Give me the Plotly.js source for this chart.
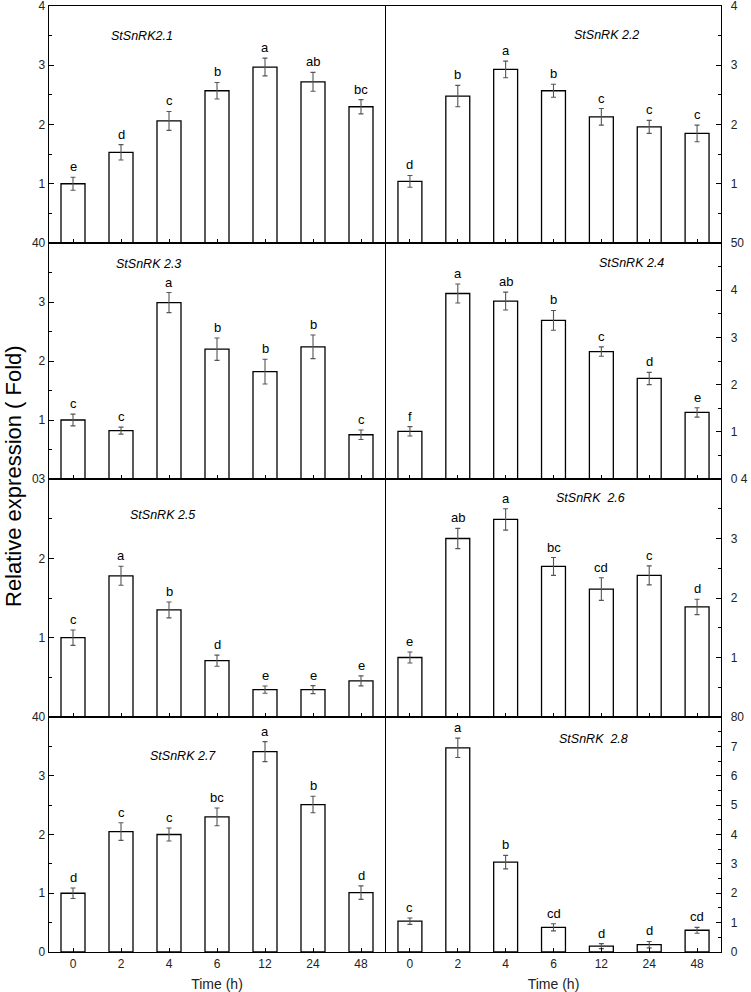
<!DOCTYPE html>
<html>
<head>
<meta charset="utf-8">
<script src="https://cdn.plot.ly/plotly-3.0.1.min.js"></script>
<style>html,body{margin:0;padding:0;background:#fff;}#chart{width:751px;height:992px;}</style>
</head>
<body>
<div id="chart"></div>
<script>
// ---- data ----
const times = ['0', '2', '4', '6', '12', '24', '48'];
const genes = ['StSnRK2.1', 'StSnRK 2.2', 'StSnRK 2.3', 'StSnRK 2.4', 'StSnRK 2.5', 'StSnRK  2.6', 'StSnRK 2.7', 'StSnRK  2.8'];

const val21 = [1.00, 1.53, 2.06, 2.57, 2.97, 2.72, 2.30];
const err21 = [0.11, 0.13, 0.16, 0.14, 0.15, 0.16, 0.12];
const let21 = ['e', 'd', 'c', 'b', 'a', 'ab', 'bc'];

const val22 = [1.04, 2.48, 2.93, 2.57, 2.13, 1.96, 1.85];
const err22 = [0.10, 0.18, 0.14, 0.11, 0.14, 0.11, 0.14];
const let22 = ['d', 'b', 'a', 'b', 'c', 'c', 'c'];

const val23 = [1.00, 0.82, 2.99, 2.20, 1.82, 2.24, 0.75];
const err23 = [0.10, 0.06, 0.17, 0.19, 0.21, 0.20, 0.08];
const let23 = ['c', 'c', 'a', 'b', 'b', 'b', 'c'];

const val24 = [1.01, 3.93, 3.77, 3.36, 2.70, 2.13, 1.41];
const err24 = [0.10, 0.20, 0.19, 0.21, 0.10, 0.13, 0.10];
const let24 = ['f', 'a', 'ab', 'b', 'c', 'd', 'e'];

const val25 = [1.00, 1.78, 1.35, 0.71, 0.345, 0.345, 0.455];
const err25 = [0.097, 0.12, 0.10, 0.07, 0.046, 0.05, 0.063];
const let25 = ['c', 'a', 'b', 'd', 'e', 'e', 'e'];

const val26 = [1.00, 3.00, 3.32, 2.53, 2.15, 2.38, 1.85];
const err26 = [0.093, 0.17, 0.18, 0.15, 0.19, 0.16, 0.13];
const let26 = ['e', 'ab', 'a', 'bc', 'cd', 'c', 'd'];

const val27 = [1.00, 2.05, 2.00, 2.30, 3.41, 2.51, 1.01];
const err27 = [0.09, 0.15, 0.11, 0.15, 0.17, 0.14, 0.115];
const let27 = ['d', 'c', 'c', 'bc', 'a', 'b', 'd'];

const val28 = [1.05, 6.95, 3.06, 0.84, 0.20, 0.25, 0.74];
const err28 = [0.11, 0.33, 0.23, 0.12, 0.085, 0.11, 0.10];
const let28 = ['c', 'a', 'b', 'cd', 'd', 'd', 'cd'];

// y tick values / labels per panel (boundary labels of stacked panels merge, as in the original)
const ytv1 = [0, 1, 2, 3, 4];          const ytt1 = ['', '1', '2', '3', '4'];
const ytv2 = [0, 1, 2, 3, 4];          const ytt2 = ['', '1', '2', '3', '4'];
const ytv3 = [0, 1, 2, 3, 4];          const ytt3 = ['', '1', '2', '3', '40'];
const ytv4 = [0, 1, 2, 3, 4, 5];       const ytt4 = ['', '1', '2', '3', '4', '50'];
const ytv5 = [0, 1, 2, 3];             const ytt5 = ['', '1', '2', '03'];
const ytv6 = [0, 1, 2, 3, 4];          const ytt6 = ['', '1', '2', '3', '0 4'];
const ytv7 = [0, 1, 2, 3, 4];          const ytt7 = ['0', '1', '2', '3', '40'];
const ytv8 = [0, 1, 2, 3, 4, 5, 6, 7, 8]; const ytt8 = ['0', '1', '2', '3', '4', '5', '6', '7', '80'];

const xTitle = 'Time (h)';
const yTitle = 'Relative expression ( Fold)';

// ---- build ----
const vals = [val21, val22, val23, val24, val25, val26, val27, val28];
const errs = [err21, err22, err23, err24, err25, err26, err27, err28];
const lets = [let21, let22, let23, let24, let25, let26, let27, let28];
const ytvs = [ytv1, ytv2, ytv3, ytv4, ytv5, ytv6, ytv7, ytv8];
const ytts = [ytt1, ytt2, ytt3, ytt4, ytt5, ytt6, ytt7, ytt8];
const yMax = [4, 4, 4, 5, 3, 4, 4, 8];

const FONT = 'Arial, "Liberation Sans", sans-serif';
const W = 751, H = 992;
const mL = 49, mR = 30, mT = 6, mB = 40;
const pw = W - mL - mR, ph = H - mT - mB;
const colX = [[49, 385], [386, 721]];
const rowY = [[6, 243], [243, 479], [479, 717], [717, 952]];
const titlePos = [[0.277, 0.873], [0.657, 0.878], [0.295, 0.911], [0.734, 0.916],
                  [0.339, 0.849], [0.609, 0.920], [0.399, 0.834], [0.618, 0.906]];

const traces = [];
const annotations = [];
const layout = {
  width: W, height: H,
  margin: {l: mL, r: mR, t: mT, b: mB, pad: 0},
  paper_bgcolor: '#fff', plot_bgcolor: '#fff',
  showlegend: false,
  font: {family: FONT, color: '#000', size: 12},
  annotations: annotations
};

for (let k = 0; k < 8; k++) {
  const n = k + 1;
  const suf = n === 1 ? '' : String(n);
  const col = k % 2, row = Math.floor(k / 2);
  const xd = [(colX[col][0] - mL) / pw, (colX[col][1] - mL) / pw];
  const yd = [(H - mB - rowY[row][1]) / ph, (H - mB - rowY[row][0]) / ph];
  traces.push({
    type: 'bar', x: times, y: vals[k],
    xaxis: 'x' + suf, yaxis: 'y' + suf,
    width: 0.5,
    marker: {color: '#fff', line: {color: '#000', width: 1.3}},
    error_y: {type: 'data', array: errs[k], visible: true, color: '#555', thickness: 1.1, width: 2.5},
    hoverinfo: 'skip'
  });
  const bottom = row === 3;
  layout['xaxis' + suf] = {
    domain: xd, anchor: 'y' + suf, type: 'category',
    categoryorder: 'array', categoryarray: times,
    range: [-0.5, 6.5],
    showline: true, linecolor: '#000', linewidth: 1.3, mirror: true,
    ticks: 'inside', ticklen: 4, tickcolor: '#000', tickwidth: 1,
    showgrid: false, zeroline: false,
    showticklabels: bottom,
    tickfont: {family: FONT, size: 12, color: '#222'},
    title: bottom ? {text: xTitle, font: {family: FONT, size: 14, color: '#222'}, standoff: 9} : {text: ''}
  };
  layout['yaxis' + suf] = {
    domain: yd, anchor: 'x' + suf,
    side: col === 0 ? 'left' : 'right',
    range: [0, yMax[k]],
    showline: true, linecolor: '#000', linewidth: 1.3, mirror: true,
    ticks: 'inside', ticklen: 5, tickcolor: '#000', tickwidth: 1,
    tickvals: ytvs[k], ticktext: ytts[k],
    minor: {dtick: 0.5, ticks: 'inside', ticklen: 3, tickcolor: '#000', tickwidth: 1, showgrid: false},
    showgrid: false, zeroline: false,
    ticklabeloverflow: 'allow',
    ticklabelstandoff: col === 0 ? 0 : 6,
    tickfont: {family: FONT, size: 12, color: '#222'}
  };
  // gene title
  annotations.push({
    xref: 'x' + suf + ' domain', yref: 'y' + suf + ' domain',
    x: titlePos[k][0], y: titlePos[k][1], text: '<i>' + genes[k] + '</i>',
    showarrow: false, xanchor: 'center', yanchor: 'middle',
    font: {family: FONT, size: 12.5, color: '#000'}
  });
  // significance letters (category index position on the category axis)
  for (let i = 0; i < times.length; i++) {
    annotations.push({
      xref: 'x' + suf, yref: 'y' + suf,
      x: i, y: vals[k][i] + errs[k][i],
      text: lets[k][i], showarrow: false,
      xanchor: 'center', yanchor: 'bottom', yshift: 1,
      font: {family: FONT, size: 13, color: '#000'}
    });
  }
}

// shared y title
annotations.push({
  xref: 'paper', yref: 'paper',
  x: (14 - mL) / pw, y: (H - mB - 476) / ph,
  text: yTitle, textangle: -90, showarrow: false,
  xanchor: 'center', yanchor: 'middle',
  font: {family: FONT, size: 22, color: '#000'}
});

Plotly.newPlot('chart', traces, layout, {displayModeBar: false, staticPlot: true});
</script>
</body>
</html>
